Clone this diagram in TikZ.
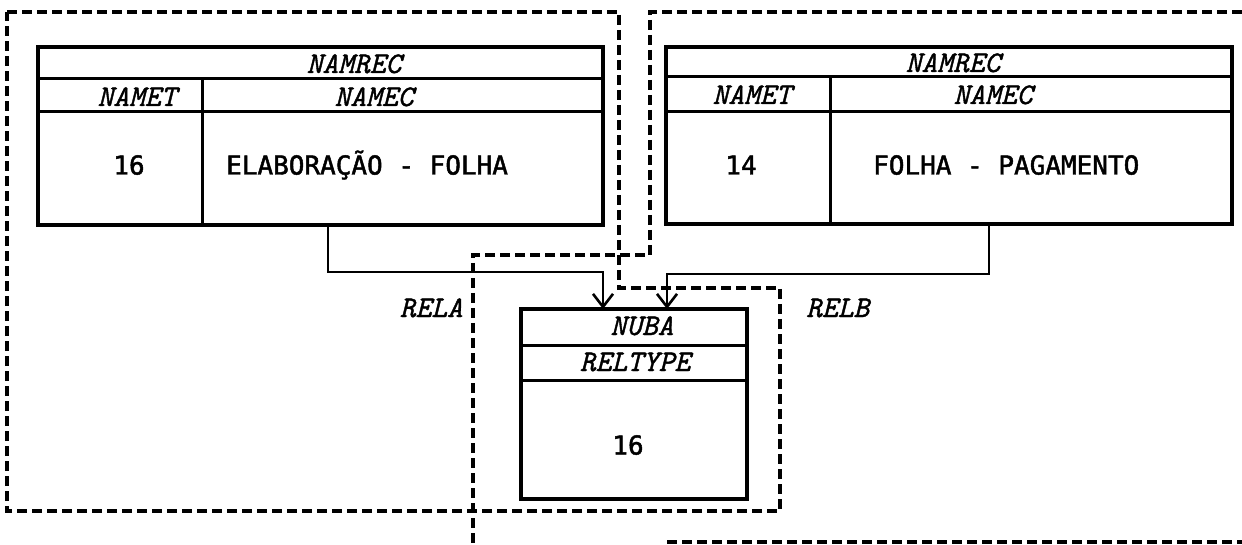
\documentclass[tikz,border=0pt]{standalone}
\usepackage{fontspec}
\newfontfamily\datafont[FakeBold=1.8]{DejaVu Sans Mono}
\newfontfamily\labfont[FakeBold=1.3]{Latin Modern Mono}
\usetikzlibrary{arrows.meta}
\begin{document}
\begin{tikzpicture}[x=1pt,y=-1pt,
  tbl/.style={draw, line width=3.2pt, inner sep=0pt, outer sep=0pt},
  tline/.style={line width=3pt},
  dsh/.style={line width=3.4pt, dash pattern=on 10pt off 5pt},
  conn/.style={line width=2.6pt, -{Straight Barb[length=13pt,width=20pt]}},
  lab/.style={font=\fontsize{30}{34}\selectfont\labfont\itshape, inner sep=0pt, text height=18pt, text depth=0pt},
  dat/.style={font=\fontsize{26}{30}\selectfont\datafont, inner sep=0pt, text height=19pt, text depth=0pt}]
\useasboundingbox (0,0) rectangle (1242,545);
\fill[white] (0,0) rectangle (1242,545);

% dashed regions
\draw[dsh] (7,12) -- (619,12) -- (619,288) -- (780,288) -- (780,511) -- (7,511) -- cycle;
\draw[dsh] (1242,12) -- (650,12) -- (650,255) -- (473,255) -- (473,545);
\draw[dsh] (667,542) -- (1242,542);

% tables
\node[tbl, minimum width=565pt, minimum height=178pt] (lt) at (320.5,136) {};
\node[tbl, minimum width=566pt, minimum height=177pt] (rt) at (949,135.5) {};
\node[tbl, minimum width=226pt, minimum height=190pt] (bx) at (634,404) {};

% left table lines
\draw[tline] ([yshift=-32pt]lt.north west) -- ([yshift=-32pt]lt.north east);
\draw[tline] ([yshift=-65pt]lt.north west) -- ([yshift=-65pt]lt.north east);
\draw[tline] ([xshift=164pt,yshift=-32pt]lt.north west) -- ([xshift=164pt]lt.south west);
% right table lines
\draw[tline] ([yshift=-30pt]rt.north west) -- ([yshift=-30pt]rt.north east);
\draw[tline] ([yshift=-65pt]rt.north west) -- ([yshift=-65pt]rt.north east);
\draw[tline] ([xshift=164pt,yshift=-30pt]rt.north west) -- ([xshift=164pt]rt.south west);
% box lines
\draw[tline] ([yshift=-36pt]bx.north west) -- ([yshift=-36pt]bx.north east);
\draw[tline] ([yshift=-71pt]bx.north west) -- ([yshift=-71pt]bx.north east);

% texts left table
\node[lab] (l-rec) at (354,64) {NAMREC};
\node[lab] (l-t) at (137,97) {NAMET};
\node[lab] (l-c) at (374,97) {NAMEC};
\node[dat] (l-n) at (129,165) {16};
\node[dat, anchor=west] (l-v) at (226,165) {ELABORAÇÃO - FOLHA};
% texts right table
\node[lab] (r-rec) at (953,63) {NAMREC};
\node[lab] (r-t) at (752,95) {NAMET};
\node[lab] (r-c) at (993,95) {NAMEC};
\node[dat] (r-n) at (741,165) {14};
\node[dat, anchor=west] (r-v) at (873,165) {FOLHA - PAGAMENTO};
% box texts
\node[lab] (b-nuba) at (642,326) {NUBA};
\node[lab] (b-rt) at (635,362) {RELTYPE};
\node[dat] (b-n) at (628,445) {16};
% relation labels
\node[lab, anchor=east] (rela) at (463,308) {RELA};
\node[lab, anchor=west] (relb) at (806,308) {RELB};

% connectors
\coordinate (la) at (328,0);
\coordinate (lb) at (603,0);
\coordinate (ra) at (989,0);
\coordinate (rb) at (667,0);
\draw[conn] (lt.south -| la) -- (la |- 0,272) -| (bx.north -| lb);
\draw[conn] (rt.south -| ra) -- (ra |- 0,274) -| (bx.north -| rb);
\end{tikzpicture}
\end{document}
